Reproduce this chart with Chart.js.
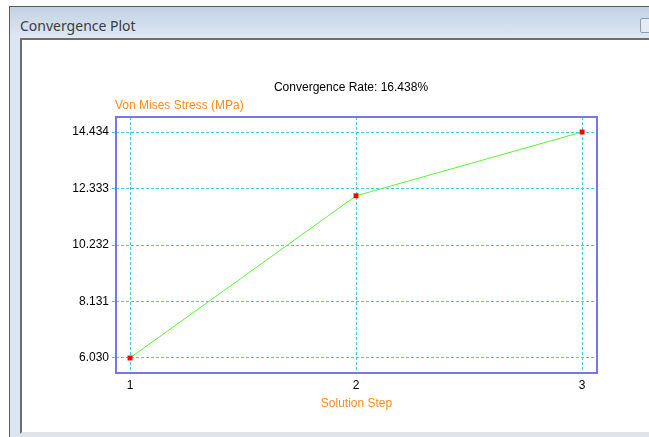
<!DOCTYPE html>
<html>
<head>
<meta charset="utf-8">
<script src="https://cdn.jsdelivr.net/npm/chart.js@4/dist/chart.umd.min.js"></script>
<style>
    html, body { margin: 0; padding: 0; width: 649px; height: 437px; overflow: hidden; background: #fff; }
    #frame { position: absolute; left: 9px; top: 6px; width: 660px; height: 440px;
        border-left: 1px solid #5a5a5a; border-top: 1px solid #5a5a5a; background: #dbe6f2; }
    #titlebar { position: absolute; left: 10px; top: 7px; width: 660px; height: 31px;
        background: linear-gradient(#c2d2e3, #dde8f3); }
    #wintitle { position: absolute; left: 20px; top: 16px; font: 14px "Noto Sans", sans-serif; color: #3c3c3c; }
    #winbtn { position: absolute; left: 640px; top: 18px; width: 14px; height: 13px;
        border: 1px solid #8d9db0; background: #e4ebf3; border-radius: 2px; }
    #panel { position: absolute; left: 20px; top: 38px; width: 660px; height: 392px;
        border-left: 2px solid #6e6e6e; border-top: 2px solid #6e6e6e; border-bottom: 2px solid #e3e3e3; background: #fff; }
    #chartWrap { position: absolute; left: 0; top: 0; width: 649px; height: 437px; }
</style>
</head>
<body>
<div id="frame"></div>
<div id="titlebar"></div>
<div id="wintitle">Convergence Plot</div>
<div id="winbtn"></div>
<div id="panel"></div>
<div id="chartWrap"><canvas id="convChart"></canvas></div>

<script>
// Chart data
const steps = [1, 2, 3];
const stress = [6.030, 12.061, 14.434];
const xTickValues = [1, 2, 3];
const yTickLabels = ['6.030', '8.131', '10.232', '12.333', '14.434'];

const chartTitle = 'Convergence Rate: 16.438%';
const yTitle = 'Von Mises Stress (MPa)';
const xTitle = 'Solution Step';

const FONT = '"Liberation Sans", Arial, sans-serif';
const ORANGE = '#ff8a1c';

// Draws the blue plot box, the chart title and the y axis title
const plotDecor = {
    id: 'plotDecor',
    afterDraw(chart) {
        const a = chart.chartArea;
        const ctx = chart.ctx;
        ctx.save();
        ctx.strokeStyle = 'rgb(118,118,240)';
        ctx.lineWidth = 2;
        ctx.strokeRect(a.left, a.top, a.right - a.left, a.bottom - a.top);

        ctx.font = '12px ' + FONT;
        ctx.textBaseline = 'middle';
        ctx.fillStyle = '#000';
        ctx.textAlign = 'center';
        ctx.fillText(chartTitle, 351, 88);

        ctx.fillStyle = ORANGE;
        ctx.textAlign = 'left';
        ctx.fillText(yTitle, a.left - 1, 106);
        ctx.restore();
    }
};

document.addEventListener('DOMContentLoaded', function() {
    const ctx = document.getElementById('convChart').getContext('2d');

    new Chart(ctx, {
        type: 'line',
        data: {
            datasets: [{
                data: steps.map((s, i) => ({ x: s, y: stress[i] })),
                borderColor: 'rgb(90,245,50)',
                borderWidth: 1,
                pointStyle: 'rect',
                pointRadius: 3.5,
                pointBackgroundColor: '#ff0000',
                pointBorderColor: '#ff0000',
                pointBorderWidth: 0,
                tension: 0
            }]
        },
        options: {
            responsive: true,
            maintainAspectRatio: false,
            animation: false,
            layout: { padding: { top: 117, right: 52, bottom: 26, left: 0 } },
            plugins: {
                legend: { display: false },
                tooltip: { enabled: false }
            },
            scales: {
                x: {
                    type: 'linear',
                    min: 0.938,
                    max: 3.066,
                    afterBuildTicks: axis => { axis.ticks = xTickValues.map(v => ({ value: v })); },
                    afterFit: axis => { axis.height = 38; },
                    ticks: {
                        color: '#000',
                        font: { family: FONT, size: 12 },
                        padding: 5,
                        callback: v => String(v)
                    },
                    grid: {
                        color: 'rgb(60,205,222)',
                        lineWidth: 1,
                        tickLength: 0
                    },
                    border: { display: false, dash: [3, 2] },
                    title: {
                        display: true,
                        text: xTitle,
                        color: ORANGE,
                        font: { family: FONT, size: 12 },
                        padding: { top: 2, bottom: 0 }
                    }
                },
                y: {
                    min: 5.472,
                    max: 14.992,
                    afterBuildTicks: axis => { axis.ticks = yTickLabels.map(t => ({ value: parseFloat(t) })); },
                    afterFit: axis => { axis.width = 116; },
                    ticks: {
                        color: '#000',
                        font: { family: FONT, size: 12 },
                        padding: 3,
                        callback: (v, i) => yTickLabels[i]
                    },
                    grid: {
                        color: 'rgb(60,205,222)',
                        lineWidth: 1,
                        tickLength: 4
                    },
                    border: { display: false, dash: [3, 2] }
                }
            }
        },
        plugins: [plotDecor]
    });
});
</script>
</body>
</html>
